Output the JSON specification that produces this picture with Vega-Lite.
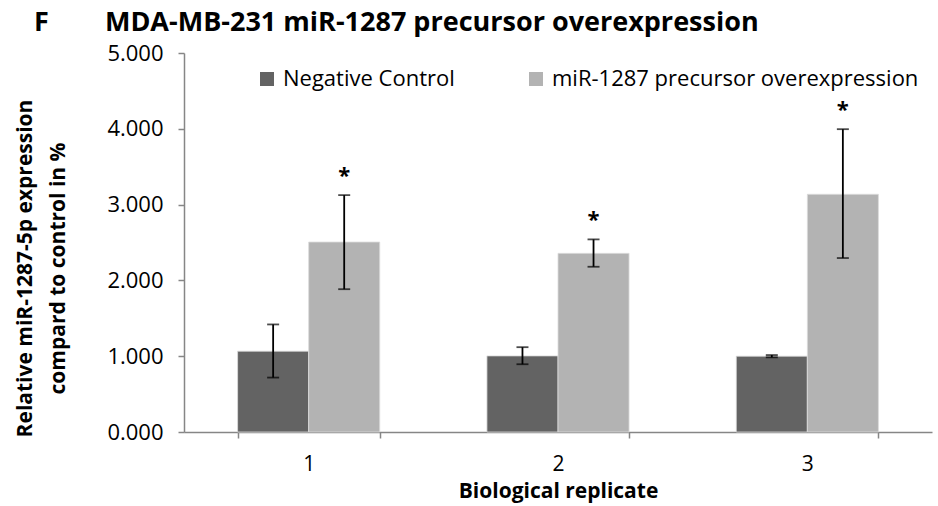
{
  "$schema": "https://vega.github.io/schema/vega-lite/v6.json",
  "width": 748,
  "height": 379,
  "autosize": "none",
  "padding": {"left": 184, "top": 53, "right": 6, "bottom": 74},
  "background": "white",
  "config": {"font": "Open Sans", "view": {"stroke": null}},
  "title": {
    "text": "F\u00a0\u00a0\u00a0\u00a0\u00a0\u00a0\u00a0\u00a0MDA-MB-231 miR-1287 precursor overexpression",
    "anchor": "start",
    "frame": "group",
    "dx": -150,
    "dy": -1,
    "fontSize": 27,
    "fontWeight": "bold",
    "color": "black",
    "font": "Open Sans"
  },
  "data": {
    "values": [
      {"replicate": "1", "group": "Negative Control", "value": 1.066, "low": 0.718, "high": 1.419},
      {"replicate": "1", "group": "miR-1287 precursor overexpression", "value": 2.506, "low": 1.884, "high": 3.125},
      {"replicate": "2", "group": "Negative Control", "value": 1.004, "low": 0.894, "high": 1.119},
      {"replicate": "2", "group": "miR-1287 precursor overexpression", "value": 2.357, "low": 2.18, "high": 2.541},
      {"replicate": "3", "group": "Negative Control", "value": 1.0, "low": 0.985, "high": 1.015},
      {"replicate": "3", "group": "miR-1287 precursor overexpression", "value": 3.136, "low": 2.295, "high": 3.995}
    ]
  },
  "encoding": {
    "x": {
      "field": "replicate",
      "type": "nominal",
      "scale": {"paddingInner": 0.43, "paddingOuter": 0.215},
      "axis": {
        "title": "Biological replicate",
        "titleFontSize": 21,
        "titleFontWeight": "bold",
        "titleColor": "black",
        "titlePadding": 6,
        "labelAngle": 0,
        "labelFontSize": 21,
        "labelColor": "black",
        "labelPadding": 15,
        "tickBand": "extent",
        "tickSize": 6,
        "tickColor": "#868686",
        "domainColor": "#868686",
        "domainWidth": 1.5,
        "tickWidth": 1.5
      }
    },
    "xOffset": {
      "field": "group",
      "type": "nominal",
      "scale": {"domain": ["Negative Control", "miR-1287 precursor overexpression"], "paddingInner": 0, "paddingOuter": 0}
    }
  },
  "layer": [
    {
      "mark": {"type": "bar", "stroke": "#dcdcdc", "strokeWidth": 0.8},
      "encoding": {
        "y": {
          "field": "value",
          "type": "quantitative",
          "scale": {"domain": [0, 5], "nice": false},
          "axis": {
            "values": [0, 1, 2, 3, 4, 5],
            "format": ".3f",
            "grid": false,
            "title": ["Relative miR-1287-5p expression", "compard to control in %"],
            "titleFontSize": 21,
            "titleFontWeight": "bold",
            "titleColor": "black",
            "titleLineHeight": 33,
            "titlePadding": 38,
            "titleY": 215,
            "labelFontSize": 22,
            "labelColor": "black",
            "labelPadding": 15,
            "tickSize": 6,
            "tickColor": "#868686",
            "domainColor": "#868686",
            "domainWidth": 1.5,
            "tickWidth": 1.5
          }
        },
        "color": {
          "field": "group",
          "type": "nominal",
          "scale": {"domain": ["Negative Control", "miR-1287 precursor overexpression"], "range": ["#636363", "#b3b3b3"]},
          "legend": {
            "title": null,
            "orient": "none",
            "legendX": 72,
            "legendY": 15,
            "direction": "horizontal",
            "symbolType": "square",
            "symbolSize": 196,
            "symbolStrokeWidth": 0,
            "symbolOpacity": 1,
            "labelFontSize": 22,
            "labelColor": "black",
            "labelOffset": 5,
            "labelLimit": 500,
            "columnPadding": 70
          }
        }
      }
    },
    {
      "mark": {"type": "rule", "color": "black", "strokeWidth": 1.8},
      "encoding": {
        "y": {"field": "low", "type": "quantitative"},
        "y2": {"field": "high"}
      }
    },
    {
      "mark": {"type": "tick", "color": "black", "size": 12, "thickness": 1.8},
      "encoding": {"y": {"field": "low", "type": "quantitative"}}
    },
    {
      "mark": {"type": "tick", "color": "black", "size": 12, "thickness": 1.8},
      "encoding": {"y": {"field": "high", "type": "quantitative"}}
    },
    {
      "transform": [{"filter": "datum.group === 'miR-1287 precursor overexpression'"}],
      "mark": {"type": "text", "text": "*", "fontSize": 22, "fontWeight": "bold", "color": "black", "baseline": "middle", "dy": -19},
      "encoding": {"y": {"field": "high", "type": "quantitative"}}
    }
  ]
}
